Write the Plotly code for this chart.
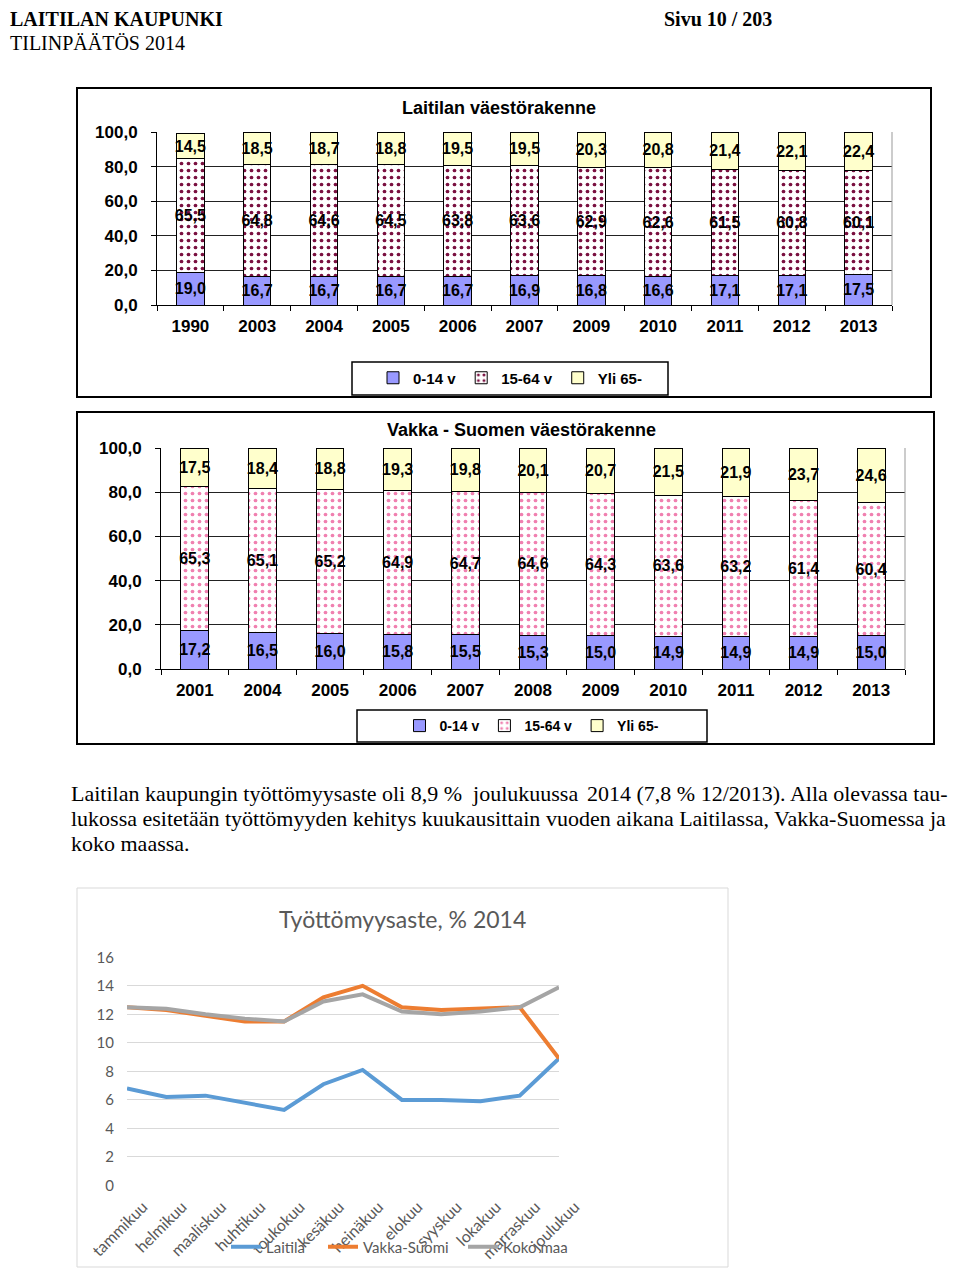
import plotly.graph_objects as go

# page is offset by the 8px default body margin -> map page pixels to figure
OFF = 8
W, H = 952, 1260
def px(x): return (x - OFF) / W
def py(y): return 1 - (y - OFF) / H

# ---------------- data ----------------
laitila_years = ["1990", "2003", "2004", "2005", "2006", "2007", "2009", "2010", "2011", "2012", "2013"]
laitila_0_14 = [19.0, 16.7, 16.7, 16.7, 16.7, 16.9, 16.8, 16.6, 17.1, 17.1, 17.5]
laitila_15_64 = [65.5, 64.8, 64.6, 64.5, 63.8, 63.6, 62.9, 62.6, 61.5, 60.8, 60.1]
laitila_65 = [14.5, 18.5, 18.7, 18.8, 19.5, 19.5, 20.3, 20.8, 21.4, 22.1, 22.4]

vakka_years = ["2001", "2004", "2005", "2006", "2007", "2008", "2009", "2010", "2011", "2012", "2013"]
vakka_0_14 = [17.2, 16.5, 16.0, 15.8, 15.5, 15.3, 15.0, 14.9, 14.9, 14.9, 15.0]
vakka_15_64 = [65.3, 65.1, 65.2, 64.9, 64.7, 64.6, 64.3, 63.6, 63.2, 61.4, 60.4]
vakka_65 = [17.5, 18.4, 18.8, 19.3, 19.8, 20.1, 20.7, 21.5, 21.9, 23.7, 24.6]

age_groups = ["0-14 v", "15-64 v", "Yli 65-"]

months = ["tammikuu", "helmikuu", "maaliskuu", "huhtikuu", "toukokuu", "kesäkuu",
          "heinäkuu", "elokuu", "syyskuu", "lokakuu", "marraskuu", "joulukuu"]
tyott_laitila = [6.8, 6.2, 6.3, 5.8, 5.3, 7.1, 8.1, 6.0, 6.0, 5.9, 6.3, 8.9]
tyott_vakka = [12.5, 12.3, 11.9, 11.5, 11.5, 13.2, 14.0, 12.5, 12.3, 12.4, 12.5, 8.9]
tyott_koko = [12.5, 12.4, 12.0, 11.7, 11.5, 12.9, 13.4, 12.2, 12.0, 12.2, 12.5, 13.9]
line_names = ["Laitila", "Vakka-Suomi", "Koko maa"]

line_ticks = [0, 2, 4, 6, 8, 10, 12, 14, 16]
bar_ticks = [0, 20, 40, 60, 80, 100]

# ---------------- styles ----------------
ARIAL = "Liberation Sans, Arial, sans-serif"
SERIF = "Liberation Serif, Times New Roman, serif"
CAL = "Lato, Carlito, sans-serif"

fig = go.Figure()

def add_stack(xs, vals_list, xa, ya, leg, pattern_color):
    styles = [
        dict(color="#9999FF", line=dict(color="black", width=1)),
        dict(color="white", line=dict(color="black", width=1),
             pattern=dict(shape=".", fgcolor=pattern_color, bgcolor="white",
                          size=7, solidity=0.22)),
        dict(color="#FFFFCC", line=dict(color="black", width=1)),
    ]
    for name, vals, st in zip(age_groups, vals_list, styles):
        fig.add_trace(go.Bar(
            x=xs, y=vals, name=name, xaxis=xa, yaxis=ya, legend=leg,
            marker=st, texttemplate="%{y:.1f}", textposition="inside",
            insidetextanchor="middle", constraintext="none", textangle=0,
            textfont=dict(family=ARIAL, size=16, color="black", weight="bold"),
            cliponaxis=False, hoverinfo="skip",
        ))

add_stack(laitila_years, [laitila_0_14, laitila_15_64, laitila_65], "x", "y", "legend", "#7A1040")
add_stack(vakka_years, [vakka_0_14, vakka_15_64, vakka_65], "x2", "y2", "legend2", "#F080B0")

line_colors = ["#5B9BD5", "#ED7D31", "#A5A5A5"]
line_legends = ["legend3", "legend4", "legend5"]
for name, vals, c, lg in zip(line_names, [tyott_laitila, tyott_vakka, tyott_koko],
                             line_colors, line_legends):
    fig.add_trace(go.Scatter(
        x=months, y=vals, name=name, mode="lines", xaxis="x3", yaxis="y3",
        legend=lg, line=dict(color=c, width=4), hoverinfo="skip",
    ))

bar_x_common = dict(type="category", showline=True, linecolor="black", linewidth=1,
                    ticks="outside", ticklen=5, tickcolor="black", tickson="boundaries",
                    showgrid=False, automargin=False,
                    tickfont=dict(family=ARIAL, size=17, color="black", weight="bold"),
                    ticklabelstandoff=6)
bar_y_common = dict(range=[0, 100], tickvals=bar_ticks, tickformat=".1f",
                    showline=True, linecolor="black", linewidth=1,
                    ticks="outside", ticklen=5, tickcolor="black", automargin=False,
                    showgrid=True, gridcolor="#222222", gridwidth=1, zeroline=False,
                    tickfont=dict(family=ARIAL, size=17, color="black", weight="bold"),
                    ticklabelstandoff=10)

line_leg = dict(orientation="h", xanchor="left", yanchor="middle", y=py(1247),
                bgcolor="rgba(0,0,0,0)", font=dict(family=CAL, size=15, color="#595959"))

fig.update_layout(
    template="none",
    width=W, height=H, margin=dict(l=0, r=0, t=0, b=0, pad=0),
    paper_bgcolor="white", plot_bgcolor="white",
    separators=", ", barmode="stack", bargap=0.59,
    xaxis=dict(domain=[px(157), px(892)], anchor="y", **bar_x_common),
    yaxis=dict(domain=[py(305), py(132)], anchor="x", **bar_y_common),
    xaxis2=dict(domain=[px(161), px(905)], anchor="y2", **bar_x_common),
    yaxis2=dict(domain=[py(669), py(448)], anchor="x2", **bar_y_common),
    xaxis3=dict(domain=[px(127), px(559)], anchor="y3", type="category",
                showline=False, showgrid=False, ticks="", tickangle=-45, automargin=False,
                ticklabelshift=16, ticklabelstandoff=8,
                tickfont=dict(family=CAL, size=16, color="#595959")),
    yaxis3=dict(domain=[py(1185.5), py(957.3)], anchor="x3", range=[0, 16],
                tickvals=line_ticks, showgrid=True, gridcolor="#D9D9D9", gridwidth=1,
                zeroline=False, showline=False, ticks="", ticklabelstandoff=12,
                automargin=False,
                tickfont=dict(family=CAL, size=15, color="#595959")),
    legend=dict(orientation="h", x=px(510), y=py(378), xanchor="center", yanchor="middle",
                traceorder="normal", bgcolor="rgba(0,0,0,0)", itemwidth=30,
                font=dict(family=ARIAL, size=15, color="black", weight="bold")),
    legend2=dict(orientation="h", x=px(532), y=py(726), xanchor="center", yanchor="middle",
                 traceorder="normal", bgcolor="rgba(0,0,0,0)", itemwidth=30,
                 font=dict(family=ARIAL, size=14, color="black", weight="bold")),
    legend3=dict(x=px(226), **line_leg),
    legend4=dict(x=px(323), **line_leg),
    legend5=dict(x=px(463), **line_leg),
    showlegend=True,
)

def rect(x0, y0, x1, y1, color="black", width=2):
    fig.add_shape(type="rect", xref="paper", yref="paper",
                  x0=px(x0), x1=px(x1), y0=py(y1), y1=py(y0),
                  line=dict(color=color, width=width), fillcolor="rgba(0,0,0,0)", layer="below")

rect(77, 88, 931, 397)
rect(352, 362, 668, 395, width=1.5)
rect(77, 412, 934, 744)
rect(357, 710, 707, 742, width=1.5)
rect(77, 888, 728, 1267, color="#D9D9D9", width=1)

# right plot-area border lines (gray)
for xr, yr in [("x domain", "y domain"), ("x2 domain", "y2 domain")]:
    fig.add_shape(type="line", xref=xr, yref=yr, x0=1, x1=1, y0=0, y1=1,
                  line=dict(color="#999999", width=1))

def text(x, y, s, size, family, bold=False, anchor="left", color="black", yanchor="middle"):
    fig.add_annotation(xref="paper", yref="paper", x=px(x), y=py(y), text=s,
                       showarrow=False, xanchor=anchor, yanchor=yanchor,
                       font=dict(family=family, size=size, color=color,
                                 weight="bold" if bold else "normal"))

text(8, 6, "LAITILAN KAUPUNKI", 20, SERIF, bold=True, yanchor="top")
text(662, 6, "Sivu 10 / 203", 20, SERIF, bold=True, yanchor="top")
text(8, 43, "TILINPÄÄTÖS 2014", 20, SERIF)

text(499, 108, "Laitilan väestörakenne", 18, ARIAL, bold=True, anchor="center")
text(521, 430, "Vakka - Suomen väestörakenne", 18, ARIAL, bold=True, anchor="center")

# justified paragraph: left part + right part per line
text(69, 793, "Laitilan kaupungin työttömyysaste oli 8,9 %  joulukuussa", 22, SERIF)
text(950, 793, "2014 (7,8 % 12/2013). Alla olevassa tau-", 22, SERIF, anchor="right")
text(69, 818, "lukossa esitetään työttömyyden kehitys kuukausittain", 22, SERIF)
text(948, 818, "vuoden aikana Laitilassa, Vakka-Suomessa ja", 22, SERIF, anchor="right")
text(69, 843, "koko maassa.", 22, SERIF)

text(402, 919, "Työttömyysaste, % 2014", 23, CAL, anchor="center", color="#595959")

fig.write_html("out.html")
